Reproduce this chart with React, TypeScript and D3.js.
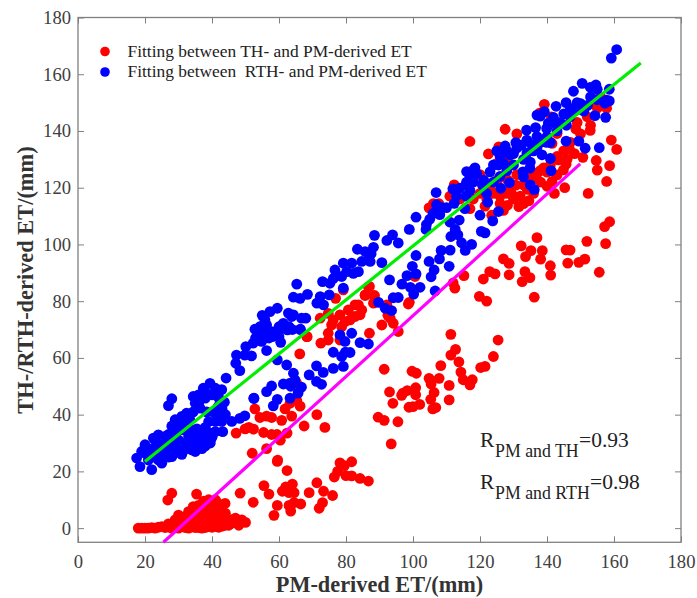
import React, { useEffect, useRef } from 'react';
import * as d3 from 'd3';

type Pt = [number, number];

const xTicks = [0, 20, 40, 60, 80, 100, 120, 140, 160, 180];
const yTicks = [0, 20, 40, 60, 80, 100, 120, 140, 160, 180];

// TH vs PM, drawn first (blue sits on top)
const redBase: Pt[] = [
  [18, 0], [19, 0], [20, 0], [21, 0], [22, 0.2], [23, 0], [24, 0.3], [25, 0.5], [26, 0.2], [27, 0.4], [28, 0], [29, 0.3], [30, 0], [31, 0.5], [32, 0.2], [33, 0], [34, 0.4], [35, 0.2], [36, 0.2], [37, 0], [38, 0.2], [39, 0.5], [40, 0.3], [41, 0.6], [42, 0.3],
  [26.8, 9.9], [28, 12.3], [35.4, 12], [29, 2.9], [30, 4.6], [31, 2.9], [32, 2], [33, 3.5], [33, 5.8], [34, 1.1], [34.4, 7.6], [35, 4], [36, 6.4], [36.5, 2], [37, 5.2], [37, 1.7], [38, 8.2], [38, 3], [39, 10], [39, 6.4], [39.5, 7], [40, 2.9], [40.5, 3], [41, 10], [41, 7.6], [41.5, 9], [42, 5.2], [42, 2], [42.4, 6.4], [43, 7.5], [43.4, 2.9], [43.9, 8.7], [44, 5.2], [44.4, 2.3], [45, 1], [45.9, 1.7], [47, 2], [48, 1], [48.9, 2.9], [50, 2], [48.4, 12.3], [52.3, 9.1],
  [31, 1.5], [32, 4], [33, 1.5], [34, 2.5], [35, 1], [35, 5.5], [36, 3.5], [37, 3], [37.5, 6.5], [38, 1], [38, 5], [39, 2], [39, 4.5], [40, 5], [40, 8.5], [41, 4], [41, 1.5], [42, 8], [43, 4], [44, 1], [46, 3], [47, 3.5], [27, 1.5], [29, 1], [30, 2], [28, 1.5], [43, 0.7], [37.5, 9.5], [36, 8],
  [57, 12], [58.5, 4.5], [59.5, 8], [55.5, 15], [59.5, 23.5], [62.4, 20.3], [61, 13], [62, 14.5], [63, 12.5], [64, 15.5], [64.5, 12.5], [63, 8], [63.5, 6], [64.5, 9], [66.5, 8.5], [69, 12.5], [71.3, 16], [72, 7], [73, 9], [73.3, 13], [76, 11.5], [76.5, 18], [77.5, 20], [78.2, 23], [80, 18.5], [81.7, 23.4], [81.7, 18.4], [84.2, 17.5], [86.7, 16.6], [79.5, 22],
];
const redMid: Pt[] = [
  [47.2, 33.5], [49.9, 35], [51, 35.5], [52.8, 42], [54.3, 39], [56.3, 39.5], [57.8, 39], [60.8, 38], [61.8, 42], [63.3, 44], [65.3, 45], [65.3, 51], [66.3, 43], [63.8, 39.5], [52.4, 34.9], [55.4, 33.7], [57.8, 33], [60.4, 31], [62.4, 33.5], [59.4, 33], [67.5, 36], [71.3, 40], [73.7, 35.5], [56.3, 28], [52, 26.4], [59.6, 24], [66.2, 61.4], [68.4, 67.5], [72.5, 65.2], [74.7, 66.3], [74.7, 68.7], [72.3, 74], [75.7, 71.6], [76.2, 73.4], [74.7, 75.7], [78.2, 75.2], [78.7, 71], [79.7, 72.8], [78.2, 66.3],
  [82.7, 78.7], [80.7, 76.9], [84.7, 76.9], [82.7, 74.6], [81.2, 73.4], [84.2, 75.2], [83.7, 78.7], [76.9, 81], [79.2, 84], [87, 85.2], [85.7, 82.2], [88.5, 82], [88.2, 79.3], [92.2, 78.7], [93.2, 74], [94.1, 72.2], [95.6, 69.3], [90.7, 71.6], [87, 68.7], [98.9, 79.6], [68.3, 67.5],
  [86.7, 85], [85.7, 82], [88.4, 81.8], [98.6, 79], [100.6, 88.7], [92.5, 75],
];
const redLow: Pt[] = [
  [89.6, 39.1], [91.4, 38], [95.5, 37.5], [93.5, 29.7], [94, 44], [93, 48], [91.4, 56], [96.6, 46.8], [97, 47.6], [98.3, 48.5], [100.8, 49.5], [100.8, 47], [98.8, 42.6], [100, 42.8], [102, 43.6], [99.7, 55.3], [101, 54.6], [104.8, 52.8], [105.4, 50.8], [106.3, 47.8], [105.3, 45.4], [105.9, 42], [106.8, 42.5], [107.8, 52.8], [108.3, 57.3], [110.8, 50.3], [110.8, 45.2], [111.3, 61], [112.7, 63], [111.3, 68.3], [113.7, 58.6], [114.3, 55], [115, 52.3], [117, 50.5], [117.7, 52.3], [120.2, 56.6], [121.5, 57], [124, 60.5], [125.4, 66.3],
  [115.2, 89], [112.5, 84.6], [112, 86.4], [119.8, 81.7], [122, 80], [121, 87.8], [122.9, 90.4], [124.5, 89.6], [128.7, 89.3], [127, 94.9], [128.7, 93.3], [132.3, 99.5], [133.6, 95.7], [135.2, 97.8], [137, 102.4], [138.6, 97.8], [138.1, 94.8], [141, 92.5], [141.1, 89.2], [133.4, 90.4], [134.9, 88.3], [132.6, 86.9], [136.2, 81.4], [145.7, 98.1], [146.9, 98], [146.2, 93.4], [149.5, 93.7], [151.3, 94.8], [151.9, 101.1], [155.6, 90.2], [157.5, 100.3], [157.2, 106.3], [158.7, 108],
];
const redHigh: Pt[] = [
  [117, 136.3], [127.5, 140.6], [122.5, 131.9], [139.2, 149.4], [131, 139], [152.9, 140.2], [159.2, 136.8], [160.8, 133.5], [158.7, 127.8], [155, 126.2], [157.8, 122.2], [154.7, 129.6], [152.3, 118], [150.7, 130.7], [145.3, 120], [142.2, 118], [148.2, 132], [146.7, 133.5], [150, 139], [148.6, 140.7], [152, 145], [154.4, 150], [157.8, 148], [143.4, 129.8], [145.7, 128.3], [144.9, 126.3], [143, 124.5], [141.5, 122.2], [140, 120.5], [138.1, 122], [136.6, 123.3], [134.6, 115.4], [133, 114.4], [131.6, 113.3], [128.2, 113.8], [126, 114.4], [121.5, 113.5], [123.5, 110.3], [129.7, 117.4], [130.7, 120.9], [129.2, 119.7], [134.1, 119.4], [131, 124.6], [141.5, 135.6], [143, 139.1], [140, 125.5], [128.2, 122.8], [125.2, 122.8], [120, 124.6], [117.8, 126], [112.3, 121], [111, 117], [117, 112.6], [107.7, 114.4], [106.1, 114.4], [104.8, 112.9], [114, 116], [125.2, 128.7], [128.2, 129.8], [125.6, 134.4], [141.3, 145], [137.8, 146.3],
  [118, 116], [120, 118], [124, 118], [126, 117], [128, 118], [130, 116], [132, 117], [133, 121], [135, 124], [137, 125], [139, 127], [141, 128], [143, 131], [145, 133], [147, 136], [149, 143], [151, 148], [153, 142], [155, 148], [156, 152], [127, 112], [122, 116], [118, 122], [123, 120], [136, 118], [138, 126], [146, 130],
];

// RTH vs PM
const blueLow: Pt[] = [
  [17.5, 24.7], [18.5, 21.7], [22, 20.6], [25, 22.9], [28, 25.2], [20, 29.4], [20, 26.4], [22.5, 31.7], [24, 32.9], [23, 28.2], [25, 29.4], [26, 32.3], [25, 25.8], [27, 28.8], [29, 30.5], [29, 38.2], [31, 39.4], [32.4, 40.5], [31, 34.6], [33, 32.3], [31.4, 29.4], [34, 27.6], [36.4, 29.4], [38.4, 31.1], [35, 31], [37, 33.5], [39.4, 33.5], [39, 37.6], [41, 37.6], [42.4, 40], [42.9, 37.6], [34.4, 41], [36.4, 42.3], [33.4, 38.2], [34.4, 46.4], [35, 44], [37.4, 49.3], [39.4, 51], [41, 49.3], [42.9, 48.8], [38, 45.8], [41.4, 47], [43.7, 44.4], [41.9, 42.9], [38.4, 41], [40.4, 41], [44.2, 52.9], [43.2, 34], [45.9, 37.6], [28, 45.6], [27, 43.2], [30, 36], [33, 35.5], [35.5, 35], [28.5, 33], [48.3, 38.7], [49.8, 39.6], [52.5, 45.7],
  [21, 24], [22, 27], [23, 25], [24, 24], [26, 27], [27, 25], [28, 27], [29, 26.5], [30, 28], [30, 31], [31, 26], [32, 30], [32, 35], [32, 37], [33, 28], [34, 30], [34, 34], [35, 27], [35, 33], [36, 31], [37, 28], [37, 31], [38, 29], [38, 35.5], [39.5, 30], [40, 32], [41, 34], [36, 44], [36, 47], [37, 46], [38, 48], [40, 47], [42, 46], [43, 42], [44, 40], [30, 38], [28, 36], [27, 33], [24, 27], [23, 31], [21, 28], [19, 27], [26, 30], [29, 33],
  [57.3, 76.3], [59.5, 77.5], [62.8, 75.8], [64.3, 75.2], [66.7, 74], [68, 74], [55.8, 73.4], [54.3, 71], [56.3, 71.6], [52.8, 70.1], [55.3, 69.3], [57.8, 69.3], [59.8, 69.3], [62.5, 69.9], [61.3, 72.2], [66.4, 70.1], [60.5, 65.5], [54.8, 65.8], [52.3, 65.2], [50.1, 64], [56.3, 62.6], [51.8, 60.7], [47.3, 61], [47.1, 58.1], [48.3, 55.5], [49.8, 61], [59.5, 59.3], [62.3, 57.5], [64.3, 54.6], [69, 54], [71.2, 57.2], [71.2, 51.7], [57.8, 50.1], [56.3, 48.1], [52.5, 45.8], [59.5, 45.4], [61.3, 50.8], [63.3, 51.1], [64.8, 52.2], [66.7, 49.7], [65.7, 47.6], [63.3, 45.8], [58.3, 43.1],
  [53, 67], [54, 68], [57, 67], [58, 67.5], [60, 71], [60, 67.5], [63, 71], [64, 70], [55, 75], [63.5, 50],
  [73.2, 54.9], [72.7, 50.7], [76.2, 56.3], [76.2, 62], [78.7, 60.5], [79.8, 62], [79.2, 57],
  [65.3, 86], [64.3, 81.4], [66.3, 81], [68.5, 82.4], [71.3, 79.3], [73.3, 78.7], [72.3, 81.6], [75, 82.2], [73, 86.9], [75.2, 86.3], [76.2, 88], [76.7, 91], [79.2, 93.4], [78.7, 88.7], [79.2, 84.6], [81.7, 93.4], [80.2, 90.4], [82.2, 89.8], [63.8, 74.6], [66.3, 70],
];
const blueHigh: Pt[] = [
  [160.8, 168.7], [159.2, 165.7], [150.5, 156.8], [147.9, 154], [152.9, 155.4], [154.6, 156.2], [155, 154.7], [158.6, 154.7], [157.8, 150.9], [158.6, 150.6], [157.3, 149.8], [157.5, 144.8], [154.3, 145.4], [155.6, 134.1], [151.4, 133.9], [149.5, 136.4], [145.7, 136.4], [141.2, 126], [141, 130.3], [145.7, 150], [142.7, 148.7], [150.1, 149.6], [152.1, 149], [148.9, 147.4], [146.9, 145], [145, 146], [139.2, 146.8], [137, 145.6], [138, 145.2], [141.9, 144.8], [140.4, 142.8], [142.9, 142], [145.8, 142], [133.9, 140.3], [136.6, 141.2], [139.9, 140.9], [137, 138], [134, 136.8], [130.7, 135.9], [127.5, 134.7], [125, 133], [132.4, 135], [131, 134], [139.9, 136], [138.5, 131.6], [135.5, 135.1], [134, 132.2], [129, 131.6], [127, 128.6], [125.5, 128], [134.9, 126.9], [132.8, 125.6], [133, 123.8], [135, 121], [136.2, 119.3], [128.8, 121.8], [126.2, 119.8], [123, 125.6], [121.1, 122.7], [120.7, 121], [122, 118], [122.3, 114.9], [125.5, 111.6], [123.8, 108.3], [120, 110.3], [118.5, 127], [116, 125.7], [117, 124], [115.8, 121], [111.9, 119.6], [114, 119.8], [106.9, 118.3], [115.8, 117], [117, 119], [112.3, 114.5], [115.5, 112.6], [108.7, 113], [106, 110.9], [105, 108.9], [108, 110.5], [100.9, 109.6], [98.9, 105.3], [103.9, 105.3], [111, 107.9], [113.8, 108.6], [120.4, 104.6], [121.5, 104.1], [112.6, 105.3], [111.3, 102.8], [113.4, 103.4], [114.5, 100.6], [117.5, 100], [115.6, 97.9], [111.1, 98], [108.4, 97.9], [107.9, 94.9], [110.8, 92.3], [100.9, 96.1], [104.8, 94], [106.3, 91], [105.4, 88.6], [99.8, 92.3], [100.9, 89.6], [98.2, 89], [96.7, 86], [99.2, 84.9], [102.1, 84.9], [100.2, 82.5], [93, 87.5], [94.1, 81.2], [95.6, 81.3], [106.6, 83.6], [89.7, 79.6], [90.7, 93.6], [88.5, 103.2], [92.2, 101.4], [93.9, 103.4], [95.6, 100.5], [88.2, 99], [86.7, 96.7], [83.4, 98.3], [85.7, 97.5], [87.5, 96.7], [84.7, 94], [87.2, 94], [83.7, 90.4],
  [78.2, 68.1], [79.7, 65.8], [81.7, 68.7], [84.2, 65.4], [86.7, 64.9], [81.2, 61.9], [91.7, 77.5], [93.6, 76.7],
  [118, 122], [119, 125], [124, 128], [126, 131], [128, 133], [130, 132], [133, 130], [135, 129], [136, 133], [137, 134], [138, 136], [140, 138], [141, 136], [143, 140], [144, 143], [147, 148], [149, 150], [151, 147], [153, 152], [155, 151], [113, 117], [110, 113], [104, 107], [107, 114], [116, 122], [124, 122], [126, 124], [128, 126], [130, 128],
];

const thFit: Pt[] = [[25.5, -5], [149.9, 128.4]];
const rthFit: Pt[] = [[20, 23.5], [168, 164]];

const legendLabels = ['Fitting between TH- and PM-derived ET', 'Fitting between  RTH- and PM-derived ET'];
const legendColors = ['#ff0000', '#0000ff'];

const App = () => {
  const svgRef = useRef<SVGSVGElement>(null);

  useEffect(() => {
    const svg = d3.select(svgRef.current);
    svg.selectAll('*').remove();

    const w = 697;
    const h = 598;
    const left = 78;
    const right = 681;
    const top = 17.5;
    const bottom = 542.3;
    const serif = '"Liberation Serif", serif';

    const x = d3.scaleLinear().domain([0, 180]).range([left, right]);
    const y = d3.scaleLinear().domain([-5, 180]).range([bottom, top]);

    const axisColor = '#808080';

    const styleAxis = (g: any, labels: boolean) => {
      g.select('.domain').remove();
      g.selectAll('line').attr('stroke', axisColor).attr('stroke-width', 1);
      g.selectAll('text')
        .attr('fill', labels ? '#404040' : 'none')
        .style('font-family', serif)
        .style('font-size', '18.6px');
    };

    svg.append('g')
      .attr('transform', `translate(0,${bottom})`)
      .call(d3.axisBottom(x).tickValues(xTicks).tickSize(-6).tickPadding(12))
      .call(styleAxis, true);
    svg.append('g')
      .attr('transform', `translate(${left},0)`)
      .call(d3.axisLeft(y).tickValues(yTicks).tickSize(-6).tickPadding(7))
      .call(styleAxis, true);
    // no labels on the top and right sides
    svg.append('g')
      .attr('transform', `translate(0,${top})`)
      .call(d3.axisTop(x).tickValues(xTicks).tickSize(-6).tickFormat(() => ''))
      .call(styleAxis, false);
    svg.append('g')
      .attr('transform', `translate(${right},0)`)
      .call(d3.axisRight(y).tickValues(yTicks).tickSize(-6).tickFormat(() => ''))
      .call(styleAxis, false);

    svg.append('rect')
      .attr('x', left)
      .attr('y', top)
      .attr('width', right - left)
      .attr('height', bottom - top)
      .attr('fill', 'none')
      .attr('stroke', axisColor)
      .attr('stroke-width', 1.3);

    const dots = (pts: Pt[], color: string) => {
      svg.append('g')
        .attr('fill', color)
        .selectAll('circle')
        .data(pts)
        .enter()
        .append('circle')
        .attr('cx', (d) => x(d[0]))
        .attr('cy', (d) => y(d[1]))
        .attr('r', 5.4);
    };

    dots([...redBase, ...redMid, ...redLow, ...redHigh], '#ff0000');
    dots([...blueLow, ...blueHigh], '#0000ff');

    const line = d3.line<Pt>().x((d) => x(d[0])).y((d) => y(d[1]));
    svg.append('path').attr('d', line(thFit)).attr('fill', 'none').attr('stroke', '#ff00ff').attr('stroke-width', 3.2);
    svg.append('path').attr('d', line(rthFit)).attr('fill', 'none').attr('stroke', '#00ee00').attr('stroke-width', 3.2);

    // legend
    legendLabels.forEach((label, i) => {
      const ly = 51.5 + i * 20.5;
      svg.append('circle').attr('cx', 105).attr('cy', ly).attr('r', 4.8).attr('fill', legendColors[i]);
      svg.append('text')
        .attr('x', 127.5)
        .attr('y', ly + 5)
        .attr('fill', '#222')
        .style('font-family', serif)
        .style('font-size', '17.4px')
        .style('white-space', 'pre')
        .text(label);
    });

    // axis titles
    svg.append('text')
      .attr('x', 379.5)
      .attr('y', 592)
      .attr('text-anchor', 'middle')
      .attr('fill', '#333')
      .style('font-family', serif)
      .style('font-size', '22.3px')
      .style('font-weight', 'bold')
      .text('PM-derived ET/(mm)');
    svg.append('text')
      .attr('transform', 'translate(33,280) rotate(-90)')
      .attr('text-anchor', 'middle')
      .attr('fill', '#333')
      .style('font-family', serif)
      .style('font-size', '22.4px')
      .style('font-weight', 'bold')
      .text('TH-/RTH-derived ET/(mm)');

    // correlation notes
    const notes = [
      { base: 447, sub: 'PM and TH', val: '=0.93', valX: 579 },
      { base: 489, sub: 'PM and RTH', val: '=0.98', valX: 590 },
    ];
    notes.forEach((n) => {
      const t = (tx: number, ty: number, size: number, s: string) =>
        svg.append('text')
          .attr('x', tx)
          .attr('y', ty)
          .attr('fill', '#222')
          .style('font-family', serif)
          .style('font-size', `${size}px`)
          .text(s);
      t(480, n.base, 21.5, 'R');
      t(495, n.base + 10, 17.8, n.sub);
      t(n.valX, n.base, 21.5, n.val);
    });

    svg.attr('width', w).attr('height', h);
  }, []);

  return <svg ref={svgRef} style={{ position: 'absolute', left: 0, top: 0, background: '#fff' }} />;
};

export default App;
